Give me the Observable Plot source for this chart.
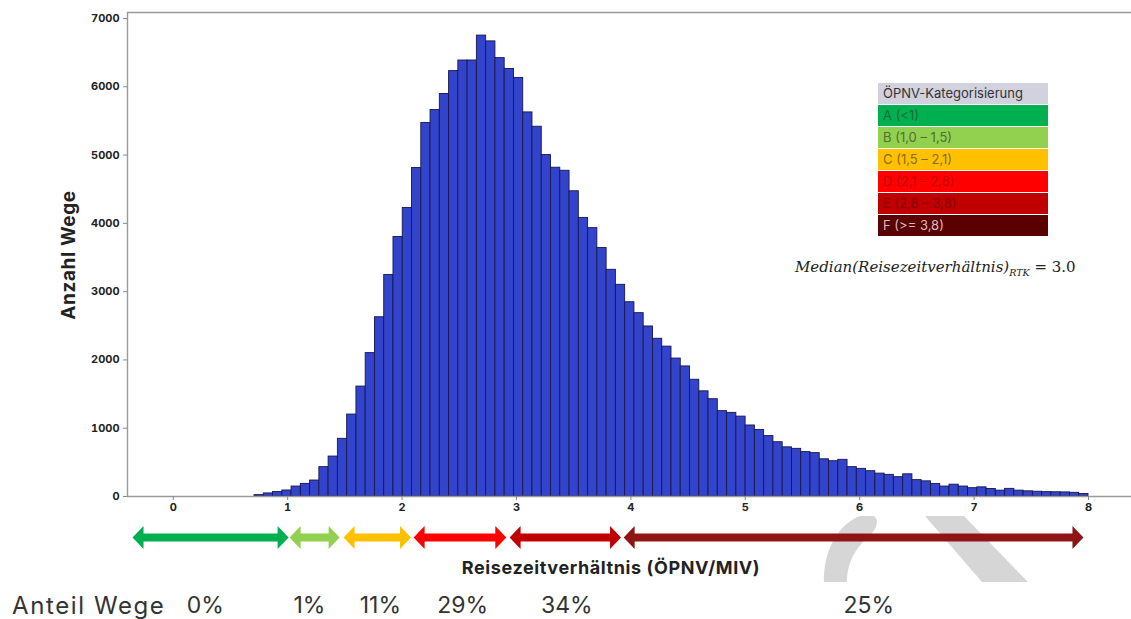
<!DOCTYPE html>
<html><head><meta charset="utf-8">
<script src="https://cdn.jsdelivr.net/npm/d3@7"></script>
<script src="https://cdn.jsdelivr.net/npm/@observablehq/plot@0.6"></script>
<style>
body{margin:0;background:#fff;}
#wrap{position:relative;width:1131px;height:619px;overflow:hidden;background:#fff;font-family:Inter,Lato,sans-serif;}
.abs{position:absolute;}
</style></head><body><div id="wrap"></div>
<script>
// ---- data ----
const binStart = 0.71;
const binWidth = 0.081;
const counts = [20,45,65,88,146,185,234,430,585,845,
  1200,1610,2100,2625,3245,3800,4225,4810,5470,5660,
  5895,6230,6385,6385,6750,6665,6420,6260,6130,5625,
  5415,5000,4815,4770,4470,4080,3930,3640,3320,3100,
  2845,2685,2490,2310,2195,2020,1905,1710,1540,1425,
  1250,1225,1170,1040,975,885,795,720,698,650,
  635,545,517,537,430,405,371,335,317,283,
  325,240,222,184,146,173,146,122,134,110,
  86,112,86,76,70,64,62,60,54,36];
const xTicks = [0,1,2,3,4,5,6,7,8];
const yTicks = [0,1000,2000,3000,4000,5000,6000,7000];
const legendTitle = "ÖPNV-Kategorisierung";
const categories = ["A (<1)","B (1,0 – 1,5)","C (1,5 – 2,1)","D (2,1 – 2,8)","E (2,8 – 3,8)","F (>= 3,8)"];
const catColors = ["#00b050","#92d050","#ffc000","#ff0000","#c00000","#5a0000"];
const catTextColors = ["#1d6a38","#4e7030","#8a6a14","#c40000","#8a0000","#d9bcbc"];
const arrowColors = ["#00b050","#92d050","#ffc000","#ff0000","#c00000","#8f1515"];
const arrowStart = [-0.356,1.017,1.489,2.101,2.940,3.937];
const arrowEnd = [1.008,1.454,2.078,2.911,3.914,7.956];
const shareLabels = ["0%","1%","11%","29%","34%","25%"];
const shareX = [0.28,1.19,1.81,2.53,3.44,6.08];

// ---- layout ----
const W = 1131;
const xDomain = [-0.4, 8.376];
const yMax = 7088;
const wrap = document.getElementById("wrap");

// watermark decoration
wrap.insertAdjacentHTML("beforeend",
 `<svg class="abs" style="left:0;top:0" width="1131" height="619">
   <path d="M824,582 C823,552 838,524 860,516 L874,516 C879,519 877,528 872,533 C857,546 847,561 847,582 Z" fill="#d6d6d6"/>
   <path d="M925,516 L964,516 L1028,582 L982,582 Z" fill="#d6d6d6"/>
  </svg>`);

const bins = counts.map((c, i) => ({x1: binStart + i * binWidth, x2: binStart + (i + 1) * binWidth, count: c}));

const main = Plot.plot({
  width: W, height: 520,
  marginLeft: 127, marginRight: 0, marginTop: 12, marginBottom: 24,
  x: {domain: xDomain},
  y: {domain: [0, yMax]},
  style: {fontFamily: "Inter, Lato, sans-serif", fontSize: "11px", fontWeight: 700, background: "none", color: "#222"},
  marks: [
    Plot.rectY(bins, {x1: "x1", x2: "x2", y: "count", fill: "#3344cc", stroke: "#17174c", strokeWidth: 0.9}),
    Plot.ruleY([0], {stroke: "#9a9a9a", strokeWidth: 1.4}),
    Plot.ruleY([yMax], {stroke: "#9a9a9a", strokeWidth: 1.4}),
    Plot.ruleX([xDomain[0]], {stroke: "#9a9a9a", strokeWidth: 1.4}),
    Plot.axisX({ticks: xTicks, tickSize: 4, tickPadding: 3, label: null, stroke: "#888", fill: "#222", tickFormat: d => String(d)}),
    Plot.axisY({ticks: yTicks, tickSize: 4, tickPadding: 4, label: null, stroke: "#888", fill: "#222", tickFormat: d => String(d)})
  ]
});
main.classList.add("abs");
main.style.left = "0px"; main.style.top = "0px";
wrap.appendChild(main);

// arrow + percentages strip (shares the x scale)
const headLen = 0.096, headHalf = 11.5, shaftHalf = 4, arrowY = 17, shareY = 85;
const arrowMarks = arrowColors.map((col, i) => {
  const a = arrowStart[i], b = arrowEnd[i];
  const pts = [
    [a, arrowY], [a + headLen, arrowY - headHalf], [a + headLen, arrowY - shaftHalf],
    [b - headLen, arrowY - shaftHalf], [b - headLen, arrowY - headHalf], [b, arrowY],
    [b - headLen, arrowY + headHalf], [b - headLen, arrowY + shaftHalf],
    [a + headLen, arrowY + shaftHalf], [a + headLen, arrowY + headHalf], [a, arrowY]
  ].map(([x, y]) => ({x, y}));
  return Plot.line(pts, {x: "x", y: "y", fill: col, stroke: "none", curve: "linear"});
});
const shares = shareLabels.map((t, i) => ({t, x: shareX[i]}));
const strip = Plot.plot({
  width: W, height: 99,
  marginLeft: 127, marginRight: 0, marginTop: 0, marginBottom: 0,
  x: {domain: xDomain, axis: null},
  y: {domain: [0, 99], range: [0, 99], axis: null},
  style: {background: "none", overflow: "visible"},
  marks: [
    ...arrowMarks,
    Plot.text(shares, {x: "x", y: () => shareY, text: "t", fontSize: 23, fontFamily: "Inter, Lato, sans-serif", fill: "#333", letterSpacing: "1px"})
  ]
});
strip.classList.add("abs");
strip.style.left = "0px"; strip.style.top = "520px";
wrap.appendChild(strip);

// texts
wrap.insertAdjacentHTML("beforeend", `
 <div class="abs" style="left:68px;top:255px;transform:translate(-50%,-50%) rotate(-90deg);font-weight:700;font-size:19px;letter-spacing:0.6px;color:#222;white-space:nowrap;">Anzahl Wege</div>
 <div class="abs" style="left:611px;top:567px;transform:translate(-50%,-50%);font-weight:700;font-size:18px;letter-spacing:0.6px;color:#222;white-space:nowrap;">Reisezeitverhältnis (ÖPNV/MIV)</div>
 <div class="abs" style="left:12px;top:605px;transform:translate(0,-50%);font-size:24px;letter-spacing:1.6px;color:#333;white-space:nowrap;">Anteil Wege</div>
 <div class="abs" style="left:795px;top:268px;transform:translate(0,-50%);font-family:'DejaVu Serif',serif;font-size:15px;color:#222;white-space:nowrap;"><i>Median(Reisezeitverhältnis)</i><sub style="font-size:9.5px;font-style:italic;">RTK</sub> = 3.0</div>
`);

// legend
const leg = document.createElement("div");
leg.className = "abs";
leg.style.cssText = "left:878px;top:83px;width:170px;font-size:13px;";
leg.innerHTML = `<div style="background:#d2d2de;height:21px;line-height:21px;padding-left:5px;color:#333;margin-bottom:1px;">${legendTitle}</div>` +
  categories.map((c, i) => `<div style="background:${catColors[i]};height:21px;line-height:21px;padding-left:5px;color:${catTextColors[i]};margin-bottom:1px;">${c}</div>`).join("");
wrap.appendChild(leg);
</script></body></html>
